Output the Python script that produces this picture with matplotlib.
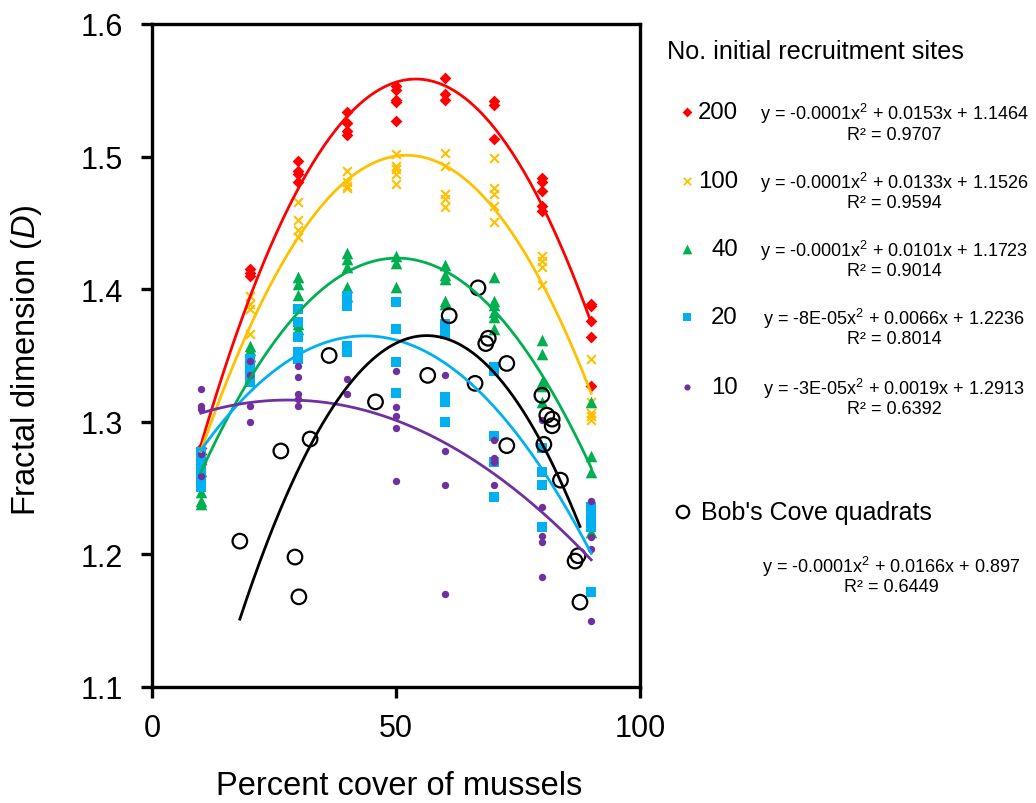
import matplotlib
matplotlib.use('Agg')
import matplotlib.pyplot as plt
import numpy as np

plt.rcParams['font.family'] = ['Liberation Sans', 'DejaVu Sans']
plt.rcParams['mathtext.fontset'] = 'custom'
plt.rcParams['mathtext.rm'] = 'Liberation Sans'
plt.rcParams['mathtext.it'] = 'Liberation Sans:italic'

# simulated runs: percent cover -> fractal dimension, by number of initial recruitment sites
cover_200 = [10]*5 + [20]*3 + [30]*4 + [40]*4 + [50]*5 + [60]*3 + [70]*3 + [80]*5 + [90]*5
d_200 = [1.280, 1.276, 1.272, 1.270, 1.268,
         1.415, 1.412, 1.410,
         1.497, 1.489, 1.487, 1.481,
         1.534, 1.525, 1.519, 1.516,
         1.553, 1.550, 1.543, 1.541, 1.527,
         1.559, 1.547, 1.543,
         1.542, 1.539, 1.513,
         1.484, 1.481, 1.474, 1.463, 1.459,
         1.389, 1.387, 1.376, 1.364, 1.327]

cover_100 = [10]*4 + [20]*4 + [30]*4 + [40]*4 + [50]*5 + [60]*5 + [70]*5 + [80]*4 + [90]*5
d_100 = [1.272, 1.268, 1.265, 1.262,
         1.395, 1.389, 1.385, 1.366,
         1.466, 1.452, 1.445, 1.439,
         1.489, 1.481, 1.478, 1.476,
         1.502, 1.493, 1.491, 1.487, 1.479,
         1.503, 1.493, 1.472, 1.468, 1.462,
         1.499, 1.476, 1.472, 1.463, 1.451,
         1.425, 1.421, 1.417, 1.403,
         1.347, 1.315, 1.307, 1.304, 1.301]

cover_40 = [10]*4 + [20]*3 + [30]*5 + [40]*5 + [50]*3 + [60]*5 + [70]*6 + [80]*5 + [90]*4
d_40 = [1.263, 1.247, 1.240, 1.238,
        1.357, 1.354, 1.350,
        1.409, 1.404, 1.396, 1.374, 1.370,
        1.427, 1.423, 1.417, 1.402, 1.395,
        1.425, 1.420, 1.402,
        1.418, 1.411, 1.408, 1.391, 1.389,
        1.409, 1.391, 1.388, 1.383, 1.379, 1.370,
        1.362, 1.351, 1.330, 1.327, 1.315,
        1.315, 1.274, 1.262, 1.217]

cover_20 = [10]*6 + [20]*4 + [30]*5 + [40]*5 + [50]*4 + [60]*5 + [70]*5 + [80]*4 + [90]*5
d_20 = [1.277, 1.270, 1.264, 1.258, 1.254, 1.251,
        1.347, 1.342, 1.335, 1.330,
        1.385, 1.375, 1.364, 1.353, 1.347,
        1.395, 1.390, 1.387, 1.357, 1.353,
        1.390, 1.370, 1.345, 1.322,
        1.374, 1.366, 1.319, 1.315, 1.300,
        1.341, 1.338, 1.289, 1.270, 1.243,
        1.280, 1.262, 1.252, 1.221,
        1.236, 1.232, 1.227, 1.221, 1.172]

cover_10 = [10]*5 + [20]*4 + [30]*5 + [40]*2 + [50]*5 + [60]*4 + [70]*4 + [80]*5 + [90]*4
d_10 = [1.325, 1.312, 1.310, 1.276, 1.259,
        1.346, 1.335, 1.312, 1.300,
        1.342, 1.334, 1.321, 1.317, 1.312,
        1.332, 1.321,
        1.338, 1.311, 1.304, 1.295, 1.255,
        1.335, 1.278, 1.252, 1.170,
        1.286, 1.273, 1.270, 1.252,
        1.301, 1.236, 1.214, 1.209, 1.183,
        1.240, 1.213, 1.204, 1.150]

# field quadrats
bob_cover = [18.0, 29.3, 30.1, 26.4, 32.4, 36.3, 45.8, 56.5, 60.9, 66.8, 66.2, 68.9,
             68.4, 72.7, 72.7, 79.9, 80.9, 82.0, 82.0, 80.3, 83.7, 86.7, 87.3, 87.7]
bob_d = [1.210, 1.198, 1.168, 1.278, 1.287, 1.350, 1.315, 1.335, 1.380, 1.401, 1.329, 1.363,
         1.359, 1.344, 1.282, 1.320, 1.305, 1.302, 1.297, 1.283, 1.256, 1.195, 1.199, 1.164]

series = [
    ('200', cover_200, d_200, '#FF0000', 'D', 36, 'y = -0.0001x$^{2}$ + 0.0153x + 1.1464', 'R² = 0.9707'),
    ('100', cover_100, d_100, '#FFC000', 'x', 40, 'y = -0.0001x$^{2}$ + 0.0133x + 1.1526', 'R² = 0.9594'),
    ('40', cover_40, d_40, '#00B050', '^', 70, 'y = -0.0001x$^{2}$ + 0.0101x + 1.1723', 'R² = 0.9014'),
    ('20', cover_20, d_20, '#00B0F0', 's', 45, 'y = -8E-05x$^{2}$ + 0.0066x + 1.2236', 'R² = 0.8014'),
    ('10', cover_10, d_10, '#7030A0', 'o', 28, 'y = -3E-05x$^{2}$ + 0.0019x + 1.2913', 'R² = 0.6392'),
]

fig = plt.figure(figsize=(10.36, 8.04), dpi=100)
ax = fig.add_axes([152/1036, 1-688/804, 488/1036, 663/804])

for i, (lab, xs, ys, col, mk, sz, eq, r2) in enumerate(series):
    ax.scatter(xs, ys, marker=mk, s=sz, color=col, linewidths=1.5 if mk == 'x' else 0, zorder=2+i)
    c = np.polyfit(xs, ys, 2)
    xx = np.linspace(min(xs), max(xs), 200)
    ax.plot(xx, np.polyval(c, xx), color=col, lw=2, zorder=10+i)

ax.scatter(bob_cover, bob_d, s=110, facecolors='none', edgecolors='black', linewidths=1.6, zorder=8)
cb = np.polyfit(bob_cover, bob_d, 2)
xb = np.linspace(min(bob_cover), max(bob_cover), 200)
ax.plot(xb, np.polyval(cb, xb), color='black', lw=2, zorder=16)

ax.set_xlim(0, 100)
ax.set_ylim(1.1, 1.6)
ax.set_xticks([0, 50, 100])
ax.set_yticks([1.1, 1.2, 1.3, 1.4, 1.5, 1.6])
ax.set_yticklabels(['1.1', '1.2', '1.3', '1.4', '1.5', '1.6'])
for s in ax.spines.values():
    s.set_linewidth(2.4)
ax.tick_params(direction='out', length=8, width=2.4, labelsize=22)
ax.tick_params(axis='y', pad=13)
ax.tick_params(axis='x', pad=11)
ax.set_xlabel('Percent cover of mussels', fontsize=23.5)
ax.xaxis.set_label_coords(0.506, -0.125)
ax.set_ylabel('Fractal dimension ($\\it{D}$)', fontsize=23.5)
ax.yaxis.set_label_coords(-0.222, 0.495)

# legend panel in pixel coordinates
lg = fig.add_axes([640/1036, 0, 396/1036, 1])
lg.set_xlim(640, 1036)
lg.set_ylim(804, 0)
lg.axis('off')
lg.text(667, 52, 'No. initial recruitment sites', fontsize=18.2, va='center', ha='left')
rows = [113, 182, 250, 318, 388]
for (lab, xs, ys, col, mk, sz, eq, r2), yr in zip(series, rows):
    lg.scatter([687], [yr], marker=mk, s=sz*0.7, color=col, linewidths=1.3 if mk == 'x' else 0)
    lg.text(738, yr, lab, fontsize=17.3, va='center', ha='right')
    lg.text(894, yr + 1, eq, fontsize=13, va='center', ha='center')
    lg.text(894, yr + 22, r2, fontsize=13, va='center', ha='center')

lg.scatter([683], [513], s=80, facecolors='none', edgecolors='black', linewidths=1.6)
lg.text(701, 513, "Bob's Cove quadrats", fontsize=18, va='center', ha='left')
lg.text(891, 567, 'y = -0.0001x$^{2}$ + 0.0166x + 0.897', fontsize=13, va='center', ha='center')
lg.text(891, 588, 'R² = 0.6449', fontsize=13, va='center', ha='center')

fig.savefig('out.png', dpi=100)
